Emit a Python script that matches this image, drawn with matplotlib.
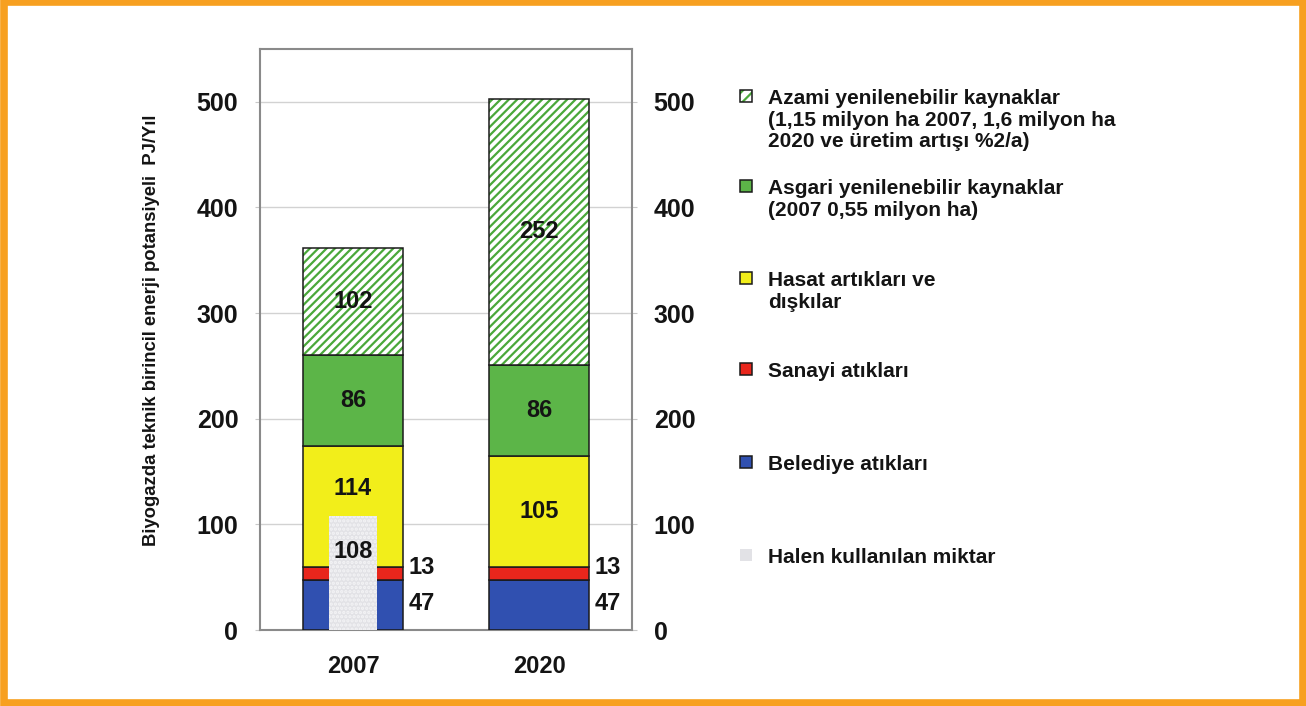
import matplotlib
matplotlib.use("Agg")
import matplotlib.pyplot as plt
from matplotlib.patches import Rectangle
import numpy as np

plt.rcParams['font.family'] = ['Liberation Sans', 'DejaVu Sans']
plt.rcParams['font.weight'] = 'bold'
plt.rcParams['hatch.linewidth'] = 1.6

# ---- data -------------------------------------------------------------
years = ["2007", "2020"]
belediye = [47, 47]          # municipal waste
sanayi = [13, 13]            # industrial waste
hasat = [114, 105]           # harvest residues and manure
asgari = [86, 86]            # minimum renewable resources
azami = [102, 252]           # maximum renewable resources
halen = [108]                # currently used amount (2007 only)

# label positions (value axis) for the stacked segments
hasat_label_y = [134, 112.5]
side_label_y_13 = 59
side_label_y_47 = 25

legend_labels = [
    "Azami yenilenebilir kaynaklar\n(1,15 milyon ha 2007, 1,6 milyon ha\n2020 ve üretim artışı %2/a)",
    "Asgari yenilenebilir kaynaklar\n(2007 0,55 milyon ha)",
    "Hasat artıkları ve\ndışkılar",
    "Sanayi atıkları",
    "Belediye atıkları",
    "Halen kullanılan miktar",
]
yticks = [0, 100, 200, 300, 400, 500]
ylabel = "Biyogazda teknik birincil enerji potansiyeli  PJ/Yıl"

# ---- styling ----------------------------------------------------------
c_blue = "#3050b0"
c_red = "#e8261c"
c_yellow = "#f2ee1a"
c_green = "#5cb548"
c_hatch = "#4aa83a"
c_grey = "#e2e2e6"
c_text = "#141414"
fs_num = 17

W, H = 1306, 706
fig = plt.figure(figsize=(W / 100, H / 100), dpi=100)

ax_l, ax_r, ax_t, ax_b = 260, 632, 49, 630
ax = fig.add_axes([ax_l / W, 1 - ax_b / H, (ax_r - ax_l) / W, (ax_b - ax_t) / H])

x = np.arange(len(years))
bw = 0.54

bel = np.array(belediye)
san = np.array(sanayi)
has = np.array(hasat)
asg = np.array(asgari)
aza = np.array(azami)

edge_kw = dict(edgecolor="#1a1a1a", linewidth=1.1, zorder=3)
ax.bar(x, bel, bw, color=c_blue, **edge_kw)
ax.bar(x, san, bw, bottom=bel, color=c_red, **edge_kw)
ax.bar(x, has, bw, bottom=bel + san, color=c_yellow, **edge_kw)
ax.bar(x, asg, bw, bottom=bel + san + has, color=c_green, **edge_kw)
b0 = bel + san + has + asg
ax.bar(x, aza, bw, bottom=b0, color="white", hatch="////", edgecolor=c_hatch,
       linewidth=0, zorder=3)
ax.bar(x, aza, bw, bottom=b0, fill=False, **edge_kw)

# currently used amount, drawn over the 2007 stack
hw = 0.26
ax.bar([0], halen, hw, color=c_grey, hatch="....", edgecolor="#f4f4f6",
       linewidth=0, zorder=4)

lab_kw = dict(ha="center", va="center", fontsize=fs_num, fontweight="bold",
              color=c_text, zorder=6)
for i in range(len(years)):
    ax.text(x[i], b0[i] + aza[i] / 2, str(azami[i]), **lab_kw)
    ax.text(x[i], bel[i] + san[i] + has[i] + asg[i] / 2, str(asgari[i]), **lab_kw)
    ax.text(x[i], hasat_label_y[i], str(hasat[i]), **lab_kw)
    ax.text(x[i] + bw / 2 + 0.03, side_label_y_13, str(sanayi[i]),
            ha="left", va="center", fontsize=fs_num, fontweight="bold", color=c_text)
    ax.text(x[i] + bw / 2 + 0.03, side_label_y_47, str(belediye[i]),
            ha="left", va="center", fontsize=fs_num, fontweight="bold", color=c_text)
ax.text(0, 74, str(halen[0]), **lab_kw)

ax.set_xlim(-0.5, 1.5)
ax.set_ylim(0, 550)
ax.set_yticks(yticks)
ax.set_xticks(x)
ax.set_xticklabels(years, fontsize=fs_num, fontweight="bold", color=c_text)
ax.tick_params(axis="x", length=0, pad=18)
ax.tick_params(axis="y", length=3.6, color="#c8c8c8", labelsize=18,
               labelcolor=c_text, pad=12, left=True, right=True,
               labelleft=True, labelright=True)
for lbl in ax.get_yticklabels():
    lbl.set_fontweight("bold")
ax.yaxis.grid(True, color="#d2d2d2", linewidth=1)
ax.set_axisbelow(True)
for s in ax.spines.values():
    s.set_color("#8a8a8a")
    s.set_linewidth(1.5)

fig.text(152 / W, 1 - 330 / H, ylabel, rotation=90, ha="center", va="center",
         fontsize=13.3, fontweight="bold", color=c_text)

# ---- overlay in pixel coordinates for legend and frame -----------------
ov = fig.add_axes([0, 0, 1, 1], zorder=10)
ov.set_xlim(0, W)
ov.set_ylim(H, 0)
ov.axis("off")
ov.patch.set_alpha(0)

leg_y = [96, 186, 278, 369, 462, 555]
leg_faces = ["white", c_green, c_yellow, c_red, c_blue, c_grey]
sq = 12
for i, (yy, fc, txt) in enumerate(zip(leg_y, leg_faces, legend_labels)):
    if i == 0:
        ov.add_patch(Rectangle((740, yy - sq / 2), sq, sq, facecolor="white",
                               hatch="///", edgecolor=c_hatch, linewidth=0))
        ov.add_patch(Rectangle((740, yy - sq / 2), sq, sq, fill=False,
                               edgecolor="#1a1a1a", linewidth=1.1))
    elif i == 5:
        ov.add_patch(Rectangle((740, yy - sq / 2), sq, sq, facecolor=c_grey,
                               edgecolor="none"))
    else:
        ov.add_patch(Rectangle((740, yy - sq / 2), sq, sq, facecolor=fc,
                               edgecolor="#1a1a1a", linewidth=1.1))
    ov.text(768, yy - 7, txt, ha="left", va="top", fontsize=15,
            fontweight="bold", color=c_text, linespacing=1.17)

# orange frame
ov.add_patch(Rectangle((3.5, 2), W - 7, H - 5, fill=False,
                       edgecolor="#f7a020", linewidth=5.5))

fig.savefig("out.png", dpi=100)
